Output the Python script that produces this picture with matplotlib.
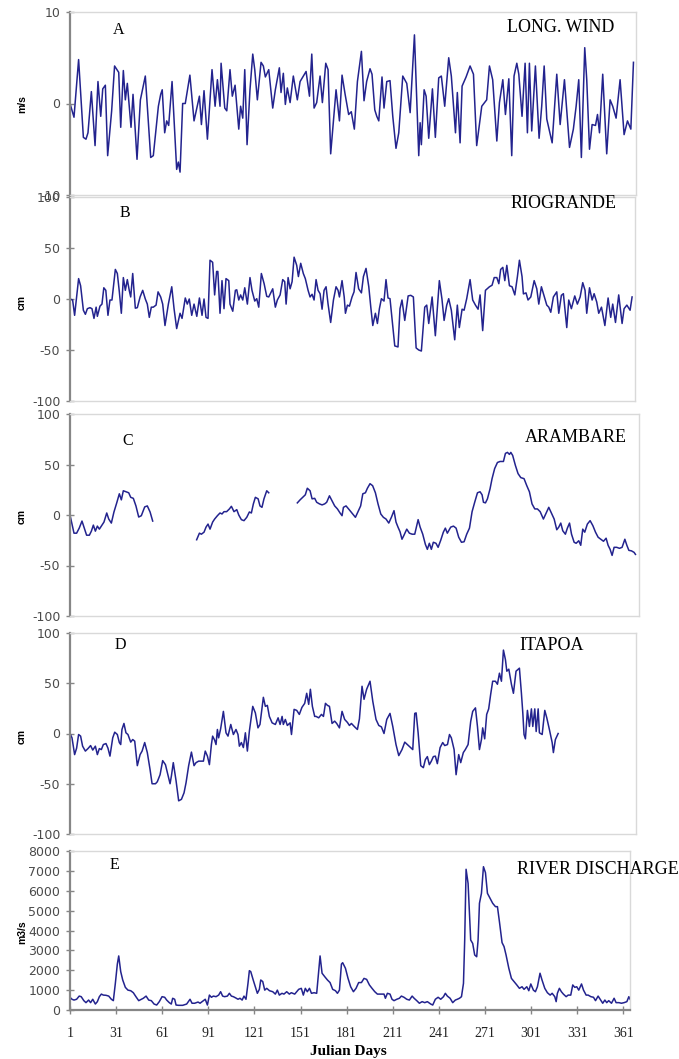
import matplotlib.pyplot as plt
import numpy as np

# ---------------------------------------
# Data (day, value)
# ---------------------------------------

WIND_DAY = [
    1, 3.6, 6.6, 9.7, 11.4, 12.7, 14.9, 17.3, 19.2, 21, 22.3, 24, 25.5, 28.1, 30, 32.7, 34, 35.7,
    37, 38.3, 40.7, 42, 44.6, 46.8, 50, 53.5, 55.2, 58.5, 60, 61, 62.6, 63.9, 65.2, 67.4, 70.4,
    71.5, 72.6, 74.3, 76, 79, 81.7, 85.2, 86.5, 88.2, 90.4, 93.4, 95.4, 96.9, 98.6, 99.3, 101.7,
    103, 105.1, 106.6, 108.4, 110.8, 112, 113.4, 114.7, 116.2, 118.1, 119.9, 121.2, 122.9, 125.3,
    126.8, 128.1, 130.3, 132.9, 134.6, 137.2, 138.3, 139.8, 141.1, 142.4, 144.2, 146.3, 148.9,
    150.7, 154.6, 156.8, 158.3, 159.8, 161.5, 163.7, 165.2, 167.4, 168.9, 170.6, 174.1, 176.3,
    178, 180, 182.3, 184, 186, 188, 190.6, 192.3, 194, 196.2, 197.5, 199.3, 200.6, 201.9, 204,
    205.3, 207.1, 209.2, 211, 213.1, 214.9, 217.5, 220.1, 222.3, 225.1, 227.9, 228.8, 229.6,
    231.4, 232.7, 234.4, 236.8, 238.7, 240.9, 242.6, 244.8, 247.4, 249.1, 251.8, 253, 254.8,
    256.1, 258.7, 261.3, 263.5, 265.6, 268.9, 272.1, 273.9, 276, 278.7, 280.4, 282.6, 284.3,
    286.5, 288.4, 289.9, 291.7, 293, 295.1, 297.1, 298.6, 299.9, 301.4, 303.8, 306.2, 307.9,
    309.5, 311.2, 314.7, 317.7, 319.9, 322.7, 326, 328.5, 330.3, 332, 333.7, 335.9, 337.2, 339,
    340.7, 342.9, 344.2, 345.5, 347.6, 350.2, 352.4, 354.1, 356.3, 358.9, 361.5, 363.7, 365.9,
    367.6,
]
WIND_MS = [
    0, -1.5, 4.8, -3.7, -3.9, -3.2, 1.3, -4.6, 2.4, -1.4, 1.6, 2.0, -5.7, -0.8, 4.1, 3.4, -2.6, 3.6,
    0.4, 2.2, -2.6, 1.0, -6.1, 0.4, 3.0, -5.9, -5.7, -0.3, 1.0, 1.5, -3.2, -1.9, -2.4, 2.4, -7.2,
    -6.4, -7.5, 0, 0, 3.1, -1.9, 0.8, -2.3, 1.4, -3.9, 3.7, -0.3, 2.6, -0.3, 4.4, -0.5,
    -0.8, 3.7, 0.8, 2.0, -2.8, -0.3, -1.6, 3.7, -4.5, 1.5, 5.4, 3.7, 0.4, 4.5,
    4.1, 2.9, 3.7, -0.5, 1.5, 3.9, 1.2, 3.3, -0.1, 1.7, 0.1, 3.0, 0.4,
    2.4, 3.5, 0.8, 5.4, -0.5, 0.1, 3.0, 0.1, 4.4, 3.7, -5.5, 1.5, -1.9,
    3.1, 1.0, -1.2, -0.9, -2.8, 2.4, 5.7, 0.3, 2.4, 3.8, 3.2, -0.7, -1.4, -1.9, 2.9,
    -0.5, 2.4, 2.5, -1.4, -4.9, -3.2, 3.0, 2.2, -1.0, 7.5, -5.7, -2.1, -4.5,
    1.5, 0.8, -3.8, 1.6, -3.7, 2.8, 3.0, -0.3, 5.0, 3.0, -3.2, 1.2, -4.3,
    1.9, 2.9, 4.1, 3.2, -4.6, -0.3, 0.4, 4.1, 2.6, -4.1, 0.1, 2.6, -1.2,
    2.7, -5.7, 3.0, 4.4, 3.2, -1.4, 4.4, -3.2, 4.4, -3.0, 4.1, -3.8, -0.3,
    4.1, -1.7, -4.3, 3.2, -2.3, 2.6, -4.8, -2.8, -0.3, 2.6, -5.9, 6.1, 2.6, -5.0,
    -2.3, -2.4, -1.2, -3.2, 3.2, -5.5, 0.4, -0.3, -1.6, 2.6, -3.4, -1.9, -2.8,
    4.5,
]

RG_DAY = [
    1, 2.7, 4, 6.6, 7.9, 9.7, 11, 12.3, 14, 15.3, 16.6, 18, 18.8, 20.5, 21.8, 23, 24.3, 25.7, 27,
    28.3, 30.5, 31.8, 33.1, 34.4, 35.7, 37, 38.3, 39.6, 40.5, 41.8, 43.5, 44.8, 46.6, 48.3, 50,
    51.3, 52.6, 53.9, 55.2, 57, 58.3, 60, 61.3, 62.8, 65, 67.2, 68.7, 70.4, 72.6, 73.9, 76, 77.3,
    78.6, 80.2, 81.7, 83.5, 85.2, 86.9, 88.2, 89.5, 90.8, 92.1, 93.8, 95.1, 96.4, 97.2, 98.6,
    99.9, 101.2, 102.5, 104.3, 105.1, 106.9, 108.6, 109.5, 110.8, 112, 113.4, 114.7, 116.4,
    118.1, 119.4, 121.2, 122.5, 123.8, 125.5, 127.3, 129, 130.3, 132.9, 134.6, 135.9, 137.7,
    139.4, 140.7, 141.6, 142.9, 144.2, 145.5, 146.8, 148.5, 149.6, 151.1, 152.8, 154.1, 155.9,
    157.2, 158.5, 159.8, 161.1, 162.4, 163.7, 165, 166.3, 167.6, 168.9, 170.6, 172.4, 174.1,
    175.4, 176.3, 178, 179.4, 180.2, 181.5, 182.8, 184.5, 185.8, 187.1, 188.8, 190.6, 191.9,
    193.6, 195.4, 196.7, 198, 199.7, 201, 202.3, 203.6, 205.3, 206.6, 207.9, 209.2, 210.5,
    212.3, 214.4, 215.7, 217, 218.8, 221, 222.7, 224.4, 226.2, 227.9, 229.6, 231.8, 233.1,
    234.4, 236.6, 238.7, 241.3, 243, 244.4, 246.1, 247.4, 249.1, 251.3, 253, 254.3, 256.1,
    257.4, 259.1, 261.3, 263, 264.8, 266.5, 267.8, 269.5, 271.3, 273.9, 275.6, 277, 278.7, 280,
    281.2, 282.6, 283.9, 285.2, 286.9, 288.6, 290.4, 292.1, 293.4, 295.1, 296, 297.7, 299,
    300.8, 303, 304.7, 306, 307.7, 309.5, 311.2, 312.5, 313.8, 315.5, 317.7, 319, 320.7, 322,
    324.2, 325.5, 327.2, 329.4, 331.1, 332.9, 334.6, 336.1, 337.2, 339, 340.7, 342, 343.7, 345,
    346.8, 349, 351.1, 352.8, 354.1, 355.9, 358, 360.2, 361.5, 363.3, 365.4, 366.7,
]
RG_CM = [
    0, -1, -16, 20, 13, -11, -15, -9.5, -8.5, -9.5, -19, -8, -17, -7, -5, 11, 8.5, -16, -1,
    -1, 29, 25, 7, -14, 21, 8.5, 19, 8, 2, 25, -9, -8.5, 2, 8.5, 0,
    -5, -18, -8, -8, -6, 7, 2, -5, -26, -5, 12, -9.5, -29, -14, -19, 1, -5,
    0, -16, -5, -17, 1, -16, 0, -18, -19, 38, 36, 4, 27, 27, -14,
    18, -9.5, 20, 18, -5, -12, 8.5, 9, -1, 4, -1, 11, -5,
    21, 8.5, -2, 0.3, -8, 25, 15, 2.6, 2, 10, -8, -1, 4,
    19, 17, -5, 21, 10, 17, 41, 33, 22, 35, 25, 20, 8.5,
    2, 4.6, -1, 19, 8.5, 5.2, -10, 8.5, 12, -5, -23, -1, 12,
    8.5, 2, 18, 2, -14, -6, -7, 2, 7, 26, 10, 6, 22,
    30, 12, -8, -26, -14, -24, -9.5, 0.3, -2, 19, 1, 0.3, -19,
    -46, -47, -9.5, -1, -21, 3, 3.6, 2, -48, -50, -51, -8, -6,
    -24, 2, -36, 18, 0, -21, -6, 0.3, -11, -40, -6, -28, -10,
    -11, 0.3, 19, -1, -6, -10, 4, -31, 8.5, 12, 13.5, 21, 21, 15,
    29, 31, 18, 33, 13, 12, 4, 22, 38, 22, 5, 6, -1,
    2, 18, 10, -5, 12, 2.6, -6, -8, -13, 2, 7, -14, 3.6, 5.2,
    -28, -1, -9.5, 3, -5, 2, 16, 8.5, -14, 11, -1, 5.2, -3, -14,
    -8, -26, 1, -18, -5, -23, 4, -24, -9.5, -6, -11, 2,
]

# gaps in the Arambare record are kept as NaN
AR_DAY = [
    1, 2.3, 3.6, 5.3, 7, 8.8, 10.5, 11.8, 13.6, 14.9, 16.2, 17.5, 18.8, 20.1, 21.8, 23.1, 24.9,
    26.2, 27.9, 29.6, 31.4, 33.1, 34.4, 35.7, 37.5, 39.2, 40.5, 42.2, 43.9, 45.7, 47.4, 49.6,
    51.3, 53.1, 54.8, 70,
    83.4, 85.2, 86.5, 88.2, 89.5, 90.8, 92.1, 93.8, 95.1, 96.9, 98.6, 99.9, 101.2, 102.9, 104.7,
    106, 107.7, 109.5, 110.8, 112.5, 114.2, 116, 117.7, 119, 120.3, 121.6, 123.4, 124.6, 125.9,
    127.2, 129, 130.3, 140,
    148.9, 150.7, 152.4, 154.1, 155.4, 157.2, 158.5, 160.2, 161.5, 163.3, 165, 166.7, 168,
    169.8, 171.5, 173.2, 175, 176.7, 178, 178.9, 180.6, 182.8, 184.9, 186.7, 188.4, 190.1,
    191.5, 193.2, 194.5, 196.2, 197.9, 199.7, 201.4, 203.2, 204.9, 206.6, 208.4, 210.1, 211.8,
    213.1, 214.4, 215.7, 217, 218.3, 220.1, 221.8, 223.6, 225.3, 227.5, 228.8, 230.5, 232.2,
    233.5, 234.8, 236.1, 237.4, 239.1, 240.5, 242.2, 243.9, 245.2, 246.5, 248.7, 250.5, 252.2,
    253.9, 255.7, 257.4, 259.1, 260.9, 262.6, 264.3, 266.1, 267.8, 269.1, 270, 271.3, 272.6,
    274.3, 275.6, 277.3, 279.1, 280.8, 283, 284.3, 285.6, 286.9, 287.8, 289, 290.8, 292.5,
    294.3, 296.4, 298.2, 299.9, 301.6, 303.4, 305.1, 306.9, 309, 310.8, 312.5, 314.2, 316,
    317.7, 319, 320.3, 321.6, 323.3, 324.6, 326, 327.3, 329, 330.3, 332, 333.3, 334.6, 335.9,
    337.6, 339.4, 341.2, 342.9, 344.6, 346.4, 348.1, 349.8, 351.1, 352.4, 353.7, 355, 356.7,
    358.5, 360.2, 362, 363.3, 364.6, 366.3, 368, 368.9,
]
AR_CM = [
    0, -9, -18, -18, -13, -6, -14, -20, -20, -16, -10, -16, -11, -14, -10, -7, 2,
    -4, -8, 3, 12, 21, 15, 24, 23, 22, 17.5, 16.5, 9, -2, -0.7, 8,
    9, 3, -6, np.nan,
    -24.5, -18, -19, -17, -12, -9, -14, -7, -4, -0.7, 2, 1, 3.3, 3.3, 6,
    8.6, 3.3, 5.3, 0, -4.6, -5.6, -2.3, 3, 2, 11, 17.5, 16, 9, 7.6,
    16, 24, 22, np.nan,
    12, 15, 17.5, 20, 26.5, 24, 16, 16.5, 12.6, 11, 10, 11, 12.6,
    19, 14, 9, 6, 2, -0.7, 7.6, 9, 5, 1, -2.3, 3.3, 9,
    21, 22, 26.5, 31, 29, 22, 11, 1, -2.3, -4, -8, -2.3, 4.3,
    -7, -12, -16.5, -24, -20, -14, -18, -19, -19, -4.6, -12, -19, -29,
    -34, -28, -34, -27, -28, -32, -25, -17, -13, -18, -12, -11, -13,
    -22, -27, -26.5, -19, -13, 3.3, 12.6, 22, 23, 20, 12.6, 12, 16,
    26, 36, 46, 52, 53, 53, 61, 62, 60, 62, 59, 49, 41,
    37, 36, 29, 23, 11, 6, 6, 3.3, -4, 2, 7.6, 2, -4,
    -14.6, -12, -8, -15.6, -19, -13, -8, -19, -27, -28, -25.5, -30, -14, -17,
    -9, -5.6, -10.6, -17, -22, -24, -26, -23, -30, -34, -40, -32, -32,
    -33, -32, -24, -30, -35, -35.5, -37, -39,
]

IT_DAY = [
    1, 2.3, 4, 5.3, 6.6, 7.9, 9.2, 11, 12.7, 14.4, 15.8, 17.5, 18.8, 20.1, 21.4, 22.7, 24.4,
    25.7, 27, 28.8, 30.1, 31.8, 33.1, 34, 34.8, 36.1, 37.4, 38.7, 40.5, 41.8, 43.1, 44.8, 46.6,
    47.9, 49.6, 51.3, 53.1, 54.4, 56.6, 57.8, 59.6, 61.3, 63.1, 64.8, 66.1, 67, 68.2, 70, 71.7,
    73.5, 75.2, 76.5, 78.2, 80, 81.7, 83, 84.7, 86.5, 87.8, 89, 90.4, 91.7, 93, 93.8, 95.1, 96,
    96.9, 97.7, 99, 100.8, 102.5, 103.8, 105.6, 107.3, 109, 110.3, 111.2, 112.5, 113.8, 115.1,
    116.4, 117.7, 119.9, 121.6, 123.3, 124.6, 126.8, 128.1, 129.4, 130.7, 132.5, 134.6, 136.4,
    137.7, 139, 139.8, 141.1, 142.4, 144.2, 145.1, 146.8, 148.5, 150.2, 151.9, 153.7, 155,
    156.3, 157.4, 158.7, 160.2, 161.1, 162.8, 164.6, 165.9, 167.2, 168.5, 169.8, 171.5, 173.2,
    174.5, 176.3, 178, 179.7, 181.5, 182.8, 184.1, 186.2, 188, 189.3, 191, 192.3, 194, 196.2,
    198, 200.1, 201.9, 203.6, 205.3, 207.1, 209.2, 211, 213.1, 214.9, 217, 218.8, 220.5, 222.7,
    224, 225.3, 226.2, 227.5, 229.2, 230.9, 232.2, 233.5, 234.8, 236.1, 237.4, 238.7, 240,
    241.8, 243.5, 244.8, 246.6, 247.9, 249.1, 250.9, 252.2, 253.9, 255.2, 256.9, 258.2, 260,
    261.7, 263, 264.8, 266.1, 267.4, 268.7, 269.5, 270.8, 272.1, 273.4, 274.7, 276, 277.8,
    279.1, 280.4, 281.7, 283, 284.3, 285.2, 286.5, 288.2, 289.5, 291.2, 293.4, 294.7, 295.6,
    296.4, 297.3, 298.6, 299.9, 301.2, 302.1, 303.4, 304.3, 305.6, 306.4, 308.2, 309.9, 311.2,
    312.9, 314.7, 315.5, 316.8, 318.6,
]
IT_CM = [
    0, -4.3, -21, -14.6, -1, -2.6, -12.6, -17.5, -15, -12, -16.5, -12.6, -21, -15, -16, -11, -10,
    -14.6, -22.5, -4.3, 1.3, -1, -9, -11, 4, 10, 0.7, -1, -8.6, -6, -7.6, -32, -21,
    -17.5, -9, -19, -36, -50, -50, -48, -41, -27, -31, -42, -50, -42, -29, -47, -67,
    -65.5, -59, -49, -32, -18.5, -32, -29, -27.5, -27.5, -27.5, -17.5, -22.5, -31, -11, -2.6, -6.6, -11,
    4, -4.3, 4.6, 22, 0.7, -2.6, 9, -1, 4, -1, -12.6, -9, -14, 0.7,
    -17.5, 2.3, 27, 20.5, 5.6, 9, 36, 27, 28, 17, 10.6, 9, 15.6,
    9, 17, 9, 14, 8, 10.6, -1, 24, 23, 19, 26, 30, 40,
    29, 44, 27, 17, 17, 15.6, 19, 17, 30, 28, 27, 10, 12.3,
    10, 5.6, 22, 14, 11, 8, 10, 6.6, 4, 14.6, 47, 34, 44, 52,
    32, 14, 8, 6.6, 0, 14, 20, 7, -11, -22, -16, -8.6, -11, -14,
    -16, 20, 20.5, 0.7, -32, -34, -26, -23, -31, -27.5, -23, -22.5, -30,
    -14, -9, -12, -11, -1, -4.3, -16, -41, -21, -29, -19, -16, -11,
    12, 22, 25.5, 7, -16, -6, 5.6, -5.3, 19, 24.5, 39, 52, 52,
    49, 60, 52, 83, 73.5, 62, 64, 49, 40, 62, 65, 40, 20.5,
    -1, -5.3, 23, 7, 24.5, 7, 24.5, 2, 24.5, 0.7, -1, 23, 15.6,
    4, -9, -19, -6, 0,
]

Q_DAY = [
    1, 2.3, 3.6, 5.3, 7, 8.3, 10, 11.4, 13.1, 14.4, 15.8, 17.5, 18.8, 20.1, 21.4, 22.7, 24.4,
    26.2, 27.9, 29.2, 30.5, 31.8, 32.7, 34, 35.3, 37, 38.7, 40.5, 42.2, 43.9, 45.7, 47.4, 48.7,
    50.5, 52.2, 53.9, 55.7, 57.4, 59.1, 60.9, 62.6, 63.9, 65.6, 66.9, 67.8, 69.1, 70, 71.7,
    74.3, 76.9, 79.1, 80.4, 82.1, 84.3, 85.6, 87.8, 89, 90.4, 91.7, 93, 94.3, 96, 97.7, 99,
    100.3, 101.6, 103.4, 104.7, 106, 107.3, 109, 110.3, 111.6, 113, 114.2, 115.5, 116.8, 117.7,
    118.6, 120.2, 121.6, 122.9, 124.2, 125.1, 126.4, 127.7, 129, 130.8, 132.9, 134.6, 135.9,
    137.2, 138.9, 140.2, 142, 143.7, 145, 147.2, 149.8, 151.5, 152.8, 154.1, 155.4, 156.8,
    158.1, 159.8, 161.5, 162.8, 163.7, 165, 166.7, 168.5, 170.2, 171.9, 173.7, 175, 176.3,
    177.6, 178.4, 180.2, 181.9, 183.6, 185.4, 187.1, 188.8, 190.6, 192.3, 194, 195.8, 197.5,
    199.3, 201, 203.2, 205.3, 206.2, 207.5, 209.2, 210.5, 211.8, 213.6, 215.3, 216.6, 218.3,
    220.1, 221.8, 223.6, 224.9, 226.6, 228.3, 230.1, 231.8, 233.5, 235.7, 237, 238.7, 240.5,
    242.2, 244, 245.2, 246.5, 248.3, 250, 251.7, 253, 254.4, 255.7, 257, 257.8, 258.7, 260,
    261.7, 263, 264.3, 265.6, 266.5, 267.4, 268.7, 270, 271.3, 272.6, 274.3, 276, 277.8, 279.1,
    280.4, 282.1, 283.4, 284.7, 286.5, 288.2, 289.9, 291.7, 293.4, 295.1, 296.4, 298.2, 299.5,
    300.8, 302.5, 303.8, 305.1, 306.8, 308.1, 309.9, 311.6, 313.4, 314.7, 316.4, 317.3, 318.1,
    319.4, 320.7, 322, 323.8, 325.1, 326.8, 328.1, 329.4, 330.7, 332, 333.8, 335.1, 336.8,
    338.1, 339.9, 341.6, 342.9, 344.6, 345.9, 347.6, 349, 350.2, 351.5, 353.3, 355, 356.3,
    358.1, 359.8, 361.5, 363.3, 364.6, 365.4,
]
Q_M3S = [
    640, 540, 500, 540, 700, 670, 470, 370, 500, 370, 540, 300, 420, 670, 800, 750, 740,
    700, 540, 470, 1340, 2310, 2720, 1930, 1510, 1140, 1000, 970, 870, 670, 470, 540, 590,
    700, 500, 470, 300, 250, 420, 670, 640, 500, 370, 300, 590, 540, 250, 235,
    235, 300, 540, 340, 340, 400, 340, 470, 540, 250, 750, 640, 700, 670, 750, 920,
    700, 670, 700, 840, 700, 670, 600, 540, 590, 500, 700, 540, 1340, 1980,
    1930, 1510, 1170, 840, 1040, 1510, 1430, 1000, 1090, 970, 920, 800, 1000,
    750, 840, 800, 920, 800, 870, 800, 1040, 1090, 750, 1090, 920, 1090,
    840, 870, 840, 1930, 2720, 1850, 1680, 1510, 1380, 1040, 970, 840, 1000,
    2310, 2380, 2100, 1590, 1170, 920, 1090, 1380, 1380, 1590, 1540, 1260, 1090,
    920, 800, 800, 800, 590, 840, 800, 540, 470, 540, 590, 700, 640,
    540, 500, 700, 590, 470, 340, 420, 370, 420, 300, 250, 540, 640,
    540, 670, 840, 700, 590, 370, 500, 540, 590, 670, 1340, 3520, 7080, 6370,
    3520, 3350, 2770, 2680, 3520, 5370, 5870, 7210, 6910, 5870, 5620, 5370, 5200, 5200,
    4440, 3390, 3190, 2770, 2100, 1590, 1430, 1260, 1090, 1170, 1040, 1170, 970,
    1310, 1000, 920, 1170, 1850, 1510, 1090, 870, 750, 840, 670, 420, 840,
    1090, 920, 800, 670, 750, 750, 1260, 1140, 1170, 1000, 1310, 1000, 750,
    750, 670, 640, 470, 700, 540, 340, 500, 370, 470, 340, 590, 370,
    370, 340, 370, 420, 670, 540,
]

PANEL_LETTERS = ["A", "B", "C", "D", "E"]
PANEL_NAMES = ["LONG. WIND", "RIOGRANDE", "ARAMBARE", "ITAPOA", "RIVER DISCHARGE"]
Y_LABELS = ["m/s", "cm", "cm", "cm", "m3/s"]
X_TICKS = [1, 31, 61, 91, 121, 151, 181, 211, 241, 271, 301, 331, 361]

# ---------------------------------------
# Layout (pixels of a 679 x 1059 figure)
# ---------------------------------------

FIG_W, FIG_H = 679, 1059
AXIS_LEFT = 70
PX_PER_DAY = 1.537

# right edge, top, bottom of each panel frame
PANEL_BOX = [(636, 12, 195), (635, 197, 401), (639, 414, 616), (636, 633, 834), (630, 851, 1010)]
LETTER_POS = [(113, 30), (120, 213), (122, 441), (115, 645), (110, 865)]
NAME_POS = [(507, 27), (511, 204), (525, 437), (519, 645), (517, 869)]
YLABEL_Y = [104, 302, 517, 737, 932]

LINE_COLOR = "#23238e"
SPINE_DARK = "#868686"
SPINE_LIGHT = "#d9d9d9"
TICK_TEXT = "#4a4a4a"


def fx(x):
    return x / FIG_W


def fy(y):
    return 1 - y / FIG_H


def main() -> None:
    fig = plt.figure(figsize=(FIG_W / 100, FIG_H / 100), dpi=100)

    series = [
        (WIND_DAY, WIND_MS, (-10, 10), [-10, 0, 10]),
        (RG_DAY, RG_CM, (-100, 100), [-100, -50, 0, 50, 100]),
        (AR_DAY, AR_CM, (-100, 100), [-100, -50, 0, 50, 100]),
        (IT_DAY, IT_CM, (-100, 100), [-100, -50, 0, 50, 100]),
        (Q_DAY, Q_M3S, (0, 8000), list(range(0, 8001, 1000))),
    ]

    for i, (days, values, ylim, yticks) in enumerate(series):
        right, top, bottom = PANEL_BOX[i]
        ax = fig.add_axes([fx(AXIS_LEFT), fy(bottom), (right - AXIS_LEFT) / FIG_W, (bottom - top) / FIG_H])
        ax.patch.set_alpha(0)

        ax.plot(days, values, color=LINE_COLOR, linewidth=1.1)

        ax.set_xlim(1, 1 + (right - AXIS_LEFT) / PX_PER_DAY)
        ax.set_ylim(*ylim)
        ax.set_yticks(yticks)
        ax.set_yticklabels([str(t) for t in yticks], fontsize=9, color=TICK_TEXT, family="DejaVu Sans")
        ax.tick_params(axis="y", direction="inout", length=6, width=1, color=SPINE_DARK, pad=4)

        for side in ["top", "right", "bottom"]:
            ax.spines[side].set_color(SPINE_LIGHT)
            ax.spines[side].set_linewidth(1)
        ax.spines["left"].set_color(SPINE_DARK)
        ax.spines["left"].set_linewidth(1.6)

        if i == 4:
            ax.spines["bottom"].set_color(SPINE_DARK)
            ax.spines["bottom"].set_linewidth(1.6)
            ax.set_xticks(X_TICKS)
            ax.set_xticklabels([str(t) for t in X_TICKS], fontsize=10, color="#222222", family="Liberation Serif")
            ax.tick_params(axis="x", direction="inout", length=6, width=1, color=SPINE_DARK, pad=9)
        else:
            ax.set_xticks([])

        lx, ly = LETTER_POS[i]
        fig.text(fx(lx), fy(ly), PANEL_LETTERS[i], ha="left", va="center", fontsize=11.5, family="Liberation Serif")
        nx, ny = NAME_POS[i]
        fig.text(fx(nx), fy(ny), PANEL_NAMES[i], ha="left", va="center", fontsize=13, family="Liberation Serif")
        fig.text(fx(22), fy(YLABEL_Y[i]), Y_LABELS[i], ha="center", va="center", rotation=90,
                 fontsize=7.5, fontweight="bold", family="Liberation Sans")

    fig.text(fx(348), fy(1051), "Julian Days", ha="center", va="center", fontsize=11,
             fontweight="bold", family="Liberation Serif")

    fig.savefig("out.png", dpi=100)


if __name__ == "__main__":
    main()
